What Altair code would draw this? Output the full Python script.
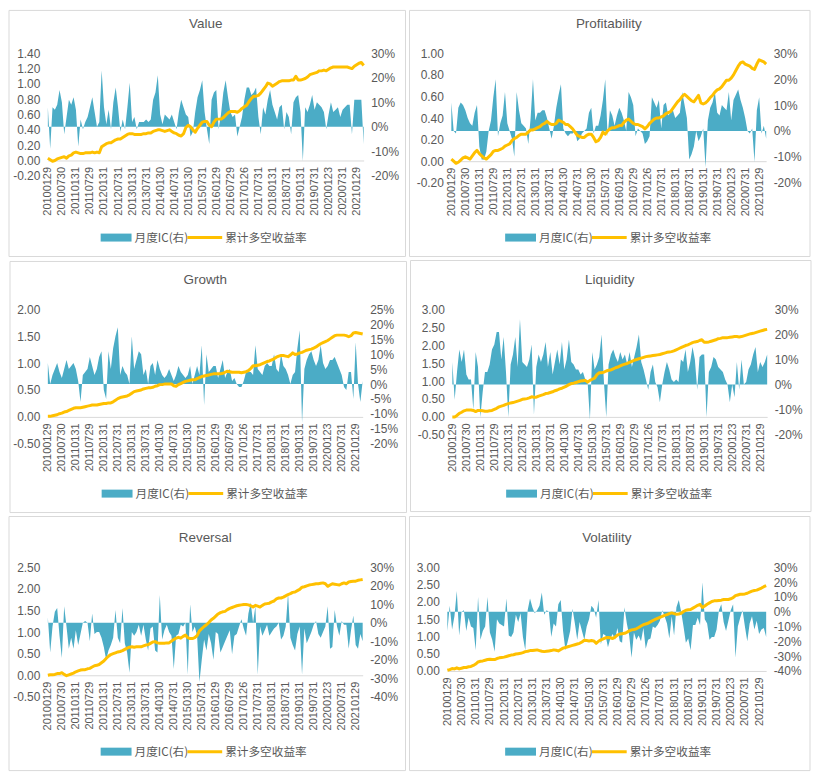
import altair as alt
import pandas as pd

# ---------------- data ----------------
tick_labels = ["20100129", "20100730", "20110131", "20110729", "20120131", "20120731",
               "20130131", "20130731", "20140130", "20140731", "20150130", "20150731",
               "20160129", "20160729", "20170126", "20170731", "20180131", "20180731",
               "20190131", "20190731", "20200123", "20200731", "20210129"]
legend_labels = ["月度IC(右)", "累计多空收益率"]
titles = ["Value", "Profitability", "Growth", "Liquidity", "Reversal", "Volatility"]

# monthly IC in percent (right axis), cumulative long-short return (left axis)
value_ic = [8, -9, 8, 7, 9, 15, 10, -3, 4, 11,
            9, 12, 7, -8, 3, -1, 2, 4, 8, 12,
            6, 0, 2, 23, 8, 1, 7, -1, 10, 16,
            8, -2, 3, -1, 8, 18, 2, 4, -1, 2,
            2, 2, 3, 2, 3, 11, 14, 21, 5, 1,
            5, 4, 3, 5, 2, -1, 6, 11, 8, 5,
            4, -4, -2, 6, 12, 15, 19, 6, -1, -7,
            11, 14, 15, -1, 5, 14, 19, 12, 6, 4,
            5, -4, 0, 4, 11, 16, 16, 13, 14, 16,
            4, -3, 8, 5, 11, 15, 9, 6, 3, 8,
            9, -1, 6, 4, -3, 10, 12, 13, 6, -14,
            8, 6, 9, 13, 7, 10, 9, 8, 6, -1,
            5, 10, 6, 7, 8, 4, 7, 8, 9, 9,
            -3, 11, 11, 11, 11, -7]
value_cum = [0.03, 0.01, -0.01, 0.00, 0.02, 0.03, 0.04, 0.05, 0.03, 0.06,
             0.07, 0.10, 0.11, 0.10, 0.09, 0.09, 0.10, 0.10, 0.10, 0.11,
             0.10, 0.11, 0.10, 0.18, 0.20, 0.22, 0.23, 0.23, 0.25, 0.27,
             0.28, 0.28, 0.30, 0.32, 0.34, 0.35, 0.35, 0.34, 0.34, 0.34,
             0.34, 0.35, 0.35, 0.36, 0.36, 0.38, 0.39, 0.40, 0.40, 0.39,
             0.38, 0.39, 0.40, 0.38, 0.36, 0.35, 0.33, 0.32, 0.35, 0.43,
             0.46, 0.44, 0.40, 0.37, 0.42, 0.46, 0.50, 0.51, 0.51, 0.46,
             0.44, 0.50, 0.54, 0.54, 0.54, 0.56, 0.59, 0.62, 0.64, 0.64,
             0.64, 0.63, 0.65, 0.68, 0.70, 0.72, 0.77, 0.81, 0.84, 0.84,
             0.85, 0.88, 0.92, 0.96, 1.01, 1.00, 0.97, 0.99, 1.01, 1.03,
             1.04, 1.04, 1.04, 1.04, 1.05, 1.05, 1.10, 1.05, 1.05, 1.06,
             1.07, 1.09, 1.12, 1.13, 1.14, 1.15, 1.17, 1.17, 1.18, 1.17,
             1.19, 1.21, 1.22, 1.22, 1.22, 1.22, 1.22, 1.22, 1.22, 1.21,
             1.20, 1.23, 1.25, 1.27, 1.28, 1.24]

profit_ic = [11, 0, -1, 9, 11, 10, 8, 5, 3, 2,
             7, 10, -6, -11, -11, -8, 0, 4, 13, 20,
             -2, 3, 6, 15, 3, 0, -3, -10, 15, 8,
             3, 2, 1, -5, 5, 20, 4, 7, 7, 8,
             8, 5, 1, -3, 2, 9, 14, 18, 1, -1,
             -2, -1, -1, 0, -4, -3, -1, 0, 1, 7,
             9, -1, 2, 2, 6, 12, 20, -2, 8, 6,
             2, 6, 9, 7, 4, 0, 15, 13, 10, -2,
             1, 0, -1, -5, -4, -2, 13, 11, 9, 12,
             1, 10, 11, 6, 7, 8, 5, 6, 7, 15,
             10, 5, -11, -9, -6, 0, -4, -2, 1, -14,
             4, 9, 11, 15, 7, 6, 10, 9, 8, 15,
             4, 12, 14, 16, 12, 9, 5, 0, -1, 1,
             -12, 8, 13, -1, 2, -3]
profit_cum = [0.02, 0.00, -0.02, -0.01, 0.01, 0.03, 0.04, 0.03, 0.02, 0.05,
              0.08, 0.10, 0.07, 0.05, 0.03, 0.02, 0.04, 0.06, 0.09, 0.10,
              0.10, 0.11, 0.12, 0.14, 0.15, 0.16, 0.19, 0.21, 0.22, 0.24,
              0.25, 0.25, 0.25, 0.27, 0.29, 0.29, 0.30, 0.31, 0.32, 0.34,
              0.35, 0.37, 0.35, 0.34, 0.34, 0.35, 0.38, 0.37, 0.36, 0.34,
              0.34, 0.32, 0.30, 0.27, 0.24, 0.23, 0.22, 0.22, 0.24, 0.25,
              0.25, 0.22, 0.18, 0.19, 0.22, 0.27, 0.25, 0.28, 0.30, 0.31,
              0.31, 0.32, 0.33, 0.33, 0.36, 0.38, 0.39, 0.37, 0.35, 0.34,
              0.34, 0.33, 0.32, 0.30, 0.32, 0.35, 0.37, 0.39, 0.40, 0.40,
              0.41, 0.42, 0.44, 0.45, 0.46, 0.49, 0.52, 0.55, 0.57, 0.60,
              0.62, 0.60, 0.58, 0.56, 0.55, 0.58, 0.61, 0.54, 0.53, 0.54,
              0.56, 0.59, 0.61, 0.64, 0.66, 0.67, 0.69, 0.72, 0.75, 0.75,
              0.77, 0.80, 0.84, 0.88, 0.91, 0.92, 0.90, 0.89, 0.88, 0.86,
              0.85, 0.90, 0.94, 0.93, 0.92, 0.90]

growth_ic = [7, 0, 3, 5, 7, 4, 2, 5, 8, 5,
             6, 7, 5, 1, -6, 3, 4, 5, 9, 6,
             3, 5, 9, 11, -2, -5, 11, 5, 12, 16,
             19, 3, 6, 4, 3, 0, 16, 5, 8, 11,
             10, 3, 5, 0, 6, 7, 3, 8, 5, 3,
             2, 3, 5, 3, 1, 3, 6, 4, 3, 2,
             3, 6, 0, 3, 6, 3, 13, -7, 10, 4,
             5, 6, 6, 2, 5, 8, 2, 4, 5, 1,
             2, 0, -1, -1, 1, 4, 4, 4, 3, 13,
             5, 4, 3, 6, 7, 6, 6, 10, 5, 4,
             10, 6, 5, 3, 0, 3, 4, 12, 18, -13,
             5, 8, 10, 11, 8, 6, 8, 13, 7, 5,
             6, 8, 8, 9, 7, 5, 3, -1, -2, 4,
             4, -5, 14, 0, -6, 1]
growth_cum = [0.01, 0.01, 0.02, 0.03, 0.04, 0.06, 0.07, 0.09, 0.10, 0.12,
              0.14, 0.16, 0.17, 0.17, 0.17, 0.18, 0.19, 0.20, 0.21, 0.22,
              0.22, 0.22, 0.23, 0.24, 0.25, 0.25, 0.26, 0.26, 0.28, 0.31,
              0.34, 0.36, 0.37, 0.38, 0.39, 0.41, 0.44, 0.47, 0.48, 0.49,
              0.50, 0.52, 0.53, 0.54, 0.54, 0.55, 0.57, 0.58, 0.60, 0.60,
              0.61, 0.61, 0.61, 0.61, 0.58, 0.57, 0.60, 0.62, 0.64, 0.66,
              0.67, 0.68, 0.69, 0.69, 0.71, 0.73, 0.75, 0.76, 0.77, 0.78,
              0.79, 0.80, 0.80, 0.80, 0.80, 0.81, 0.83, 0.85, 0.84, 0.83,
              0.83, 0.83, 0.83, 0.82, 0.83, 0.84, 0.86, 0.90, 0.95, 0.95,
              0.96, 0.97, 0.99, 1.01, 1.03, 1.04, 1.06, 1.08, 1.11, 1.13,
              1.14, 1.14, 1.13, 1.12, 1.15, 1.19, 1.16, 1.17, 1.19, 1.20,
              1.22, 1.24, 1.25, 1.26, 1.28, 1.30, 1.33, 1.36, 1.38, 1.40,
              1.42, 1.45, 1.48, 1.51, 1.52, 1.52, 1.52, 1.52, 1.51, 1.49,
              1.51, 1.56, 1.57, 1.56, 1.55, 1.54]

liquid_ic = [9, -6, 5, 14, 9, 14, 4, 2, 2, -10,
             13, 7, -13, -3, 5, 5, 8, 14, 16, 21,
             21, 10, 19, 5, -13, 8, 12, 19, 7, 26,
             9, 8, 7, 10, 16, -12, 7, 12, 9, 12,
             17, 7, 13, 4, 9, 14, 8, 17, 6, 10,
             18, 9, 8, 6, 6, 4, 5, 2, 1, -14,
             13, 6, 8, 11, 20, 1, -13, 8, 12, 14,
             11, 9, 13, 10, 12, 8, 13, 7, 11, 15,
             20, 9, 6, 2, -2, 5, 8, 1, -1, -7,
             0, 5, 9, 6, 2, 1, 2, 1, 10, 9,
             14, 5, 9, 15, 10, -2, 11, 12, 12, -13,
             5, 7, 11, 10, 7, 6, 5, 2, 0, -7,
             0, -5, 9, -2, 10, 0, 1, 6, 8, 12,
             15, 5, 9, 7, 9, 12]
liquid_cum = [0.00, 0.00, 0.04, 0.10, 0.13, 0.17, 0.19, 0.19, 0.19, 0.18,
              0.15, 0.18, 0.18, 0.17, 0.16, 0.16, 0.17, 0.18, 0.21, 0.24,
              0.28, 0.30, 0.32, 0.35, 0.37, 0.39, 0.40, 0.42, 0.44, 0.46,
              0.49, 0.50, 0.51, 0.53, 0.56, 0.55, 0.55, 0.58, 0.60, 0.62,
              0.65, 0.66, 0.68, 0.70, 0.73, 0.75, 0.78, 0.80, 0.83, 0.86,
              0.90, 0.93, 0.94, 0.96, 0.98, 1.00, 1.01, 1.02, 0.97, 1.02,
              1.05, 1.08, 1.18, 1.23, 1.23, 1.25, 1.28, 1.30, 1.31, 1.34,
              1.37, 1.39, 1.42, 1.45, 1.47, 1.49, 1.52, 1.55, 1.58, 1.60,
              1.62, 1.64, 1.66, 1.68, 1.69, 1.70, 1.71, 1.72, 1.73, 1.74,
              1.76, 1.78, 1.80, 1.81, 1.82, 1.84, 1.87, 1.90, 1.93, 1.96,
              1.99, 2.01, 2.04, 2.07, 2.09, 2.10, 2.13, 2.15, 2.08, 2.08,
              2.09, 2.11, 2.13, 2.15, 2.18, 2.19, 2.21, 2.21, 2.21, 2.22,
              2.23, 2.24, 2.24, 2.23, 2.24, 2.26, 2.28, 2.30, 2.32, 2.33,
              2.35, 2.37, 2.39, 2.41, 2.43, 2.44]

reversal_ic = [3, -16, -2, 6, 8, -7, -19, 9, -2, -14,
               -8, -14, -4, -12, -6, 0, 1, 0, -10, 5,
               -6, -5, -5, -8, -13, -20, -15, -12, -8, 7,
               -8, -11, 8, -11, -16, -27, -5, -7, -5, -1,
               -7, -1, -9, -15, -3, -2, -15, -16, 15, -9,
               -4, -1, -5, -7, -25, -7, -6, -1, -2, 0,
               -28, 10, -5, -2, -7, -32, -20, -9, -15, -6,
               -11, -20, -5, -6, -16, -13, -10, -7, -4, -17,
               -7, -6, -2, 2, -3, -7, 5, 11, 0, 9,
               -28, -2, -7, -4, -1, -7, -5, -3, -2, 0,
               -9, -7, -2, 16, -8, -12, -15, -6, -2, -28,
               -3, -11, -8, -5, -1, 1, -6, -8, -5, -2,
               9, -14, -13, 7, -2, -7, 1, -1, -1, -14,
               -4, 4, -12, -14, -6, -10]
reversal_cum = [0.00, 0.01, 0.01, 0.02, 0.04, 0.04, 0.06, 0.02, -0.01, 0.01,
                0.03, 0.05, 0.08, 0.10, 0.12, 0.13, 0.13, 0.15, 0.16, 0.19,
                0.22, 0.23, 0.25, 0.29, 0.33, 0.39, 0.44, 0.48, 0.50, 0.52,
                0.54, 0.55, 0.57, 0.60, 0.63, 0.65, 0.66, 0.65, 0.66, 0.66,
                0.66, 0.68, 0.70, 0.71, 0.74, 0.77, 0.78, 0.75, 0.74, 0.74,
                0.74, 0.75, 0.75, 0.79, 0.83, 0.86, 0.88, 0.86, 0.90, 0.93,
                0.87, 0.85, 0.85, 0.87, 0.92, 1.03, 1.08, 1.13, 1.17, 1.22,
                1.28, 1.32, 1.37, 1.42, 1.45, 1.47, 1.48, 1.52, 1.55, 1.57,
                1.59, 1.61, 1.62, 1.63, 1.64, 1.64, 1.63, 1.61, 1.58, 1.62,
                1.60, 1.58, 1.62, 1.65, 1.66, 1.67, 1.70, 1.72, 1.77, 1.79,
                1.79, 1.81, 1.84, 1.87, 1.89, 1.92, 1.93, 1.96, 1.99, 2.04,
                2.05, 2.07, 2.09, 2.10, 2.11, 2.12, 2.12, 2.13, 2.14, 2.12,
                2.06, 2.09, 2.12, 2.11, 2.10, 2.09, 2.12, 2.14, 2.12, 2.16,
                2.17, 2.18, 2.18, 2.20, 2.21, 2.22]

vol_ic = [-13, 4, -12, -3, 14, -16, 0, 1, -13, -4,
          -10, -11, -26, 10, -19, -13, -10, 10, -14, -19,
          -27, -5, -8, -9, -10, 9, -16, -17, -14, -2,
          -7, -1, -17, -26, 1, 9, 3, -1, 1, 4,
          13, -2, 1, 0, -17, -8, -10, 5, 8, -13,
          -26, -20, -13, 2, -8, -19, -7, -13, -19, -10,
          -5, 4, 2, -4, 8, -22, -15, -16, -24, -18,
          -15, -19, -11, -20, -21, 3, -8, -16, -31, -14,
          -19, -16, -20, -11, -25, -19, -18, -10, -11, -9,
          -6, 1, -3, -8, -18, -3, -16, 3, 8, 0,
          -10, -21, -18, -26, -9, -9, -4, -9, 20, -5,
          -8, -19, -17, -17, -12, 1, 5, -7, -13, -6,
          1, 5, -31, -10, -4, 1, -10, -20, -8, -3,
          -12, -6, -15, -12, -11, -17]
vol_cum = [0.02, 0.04, 0.07, 0.06, 0.09, 0.06, 0.08, 0.10, 0.10, 0.12,
           0.13, 0.16, 0.20, 0.26, 0.28, 0.29, 0.31, 0.33, 0.34, 0.33,
           0.33, 0.36, 0.38, 0.39, 0.40, 0.42, 0.44, 0.46, 0.47, 0.49,
           0.50, 0.51, 0.53, 0.56, 0.57, 0.59, 0.59, 0.60, 0.61, 0.59,
           0.57, 0.56, 0.57, 0.58, 0.59, 0.61, 0.60, 0.58, 0.62, 0.66,
           0.68, 0.70, 0.72, 0.74, 0.76, 0.78, 0.80, 0.84, 0.89, 0.88,
           0.87, 0.88, 0.87, 0.80, 0.86, 0.90, 0.93, 0.96, 0.97, 0.96,
           0.94, 0.98, 1.04, 1.07, 1.08, 1.09, 1.12, 1.16, 1.19, 1.20,
           1.22, 1.26, 1.30, 1.34, 1.36, 1.38, 1.42, 1.46, 1.49, 1.52,
           1.55, 1.58, 1.61, 1.63, 1.66, 1.68, 1.66, 1.64, 1.65, 1.67,
           1.72, 1.76, 1.77, 1.78, 1.82, 1.86, 1.90, 1.93, 1.84, 1.88,
           1.93, 1.97, 2.01, 2.03, 2.03, 2.04, 2.05, 2.07, 2.07, 2.07,
           2.09, 2.12, 2.18, 2.20, 2.22, 2.22, 2.23, 2.25, 2.28, 2.31,
           2.33, 2.34, 2.37, 2.40, 2.44, 2.47]

series = [(value_ic, value_cum), (profit_ic, profit_cum), (growth_ic, growth_cum),
          (liquid_ic, liquid_cum), (reversal_ic, reversal_cum), (vol_ic, vol_cum)]
for ic, cum in series:
    assert len(ic) == 136 and len(cum) == 136, (len(ic), len(cum))

# ---------------- style / layout ----------------
TEAL = "#4BACC6"
GOLD = "#FFC000"
LINEC = "#D9D9D9"
TXT = "#595959"
FONT = "Liberation Sans"
CJK = "Noto Sans CJK SC"

# per panel: plot w, h, left domain/step, right domain/step, border box (rel. to plot), legend x (rel.)
layout = [
    dict(w=317, h=123, ldom=(-0.2, 1.4), lstep=0.2, rdom=(-0.2, 0.3), rstep=0.1, box=(-39, 359, -43, 204), lx=53),
    dict(w=316, h=130, ldom=(-0.2, 1.0), lstep=0.2, rdom=(-0.2, 0.3), rstep=0.1, box=(-42, 360, -43, 204), lx=54),
    dict(w=316, h=135, ldom=(-0.5, 2.0), lstep=0.5, rdom=(-0.2, 0.25), rstep=0.05, box=(-38, 360, -48, 204), lx=54),
    dict(w=316, h=126, ldom=(-0.5, 3.0), lstep=0.5, rdom=(-0.2, 0.3), rstep=0.1, box=(-42, 360, -49, 203), lx=54),
    dict(w=316, h=130, ldom=(-0.5, 2.5), lstep=0.5, rdom=(-0.4, 0.3), rstep=0.1, box=(-39, 359, -51, 204), lx=53),
    dict(w=320, h=104, ldom=(0.0, 3.0), lstep=0.5, rdom=(-0.4, 0.3), rstep=0.1, box=(-38, 364, -51, 204), lx=58),
]

tick_js = "[" + ",".join("'%s'" % t for t in tick_labels) + "]"


def ticks(dom, step):
    n = round((dom[1] - dom[0]) / step)
    return [round(dom[0] + k * step, 4) for k in range(n + 1)]


def panel(title, ic, cum, cfg):
    w, h = cfg["w"], cfg["h"]
    ldom, rdom = list(cfg["ldom"]), list(cfg["rdom"])
    df = pd.DataFrame({"m": list(range(len(ic))), "ic": [v / 100 for v in ic], "cum": cum})
    one = pd.DataFrame({"k": [0]})
    zero_px = h * ldom[1] / (ldom[1] - ldom[0])
    x = alt.X("m:Q",
              scale=alt.Scale(domain=[0, len(ic) - 1], nice=False, zero=False),
              axis=alt.Axis(values=list(range(0, 6 * len(tick_labels), 6)),
                            labelExpr=tick_js + "[round(datum.value/6)]",
                            labelAngle=-90, labelFlush=False, labelOverlap=False,
                            offset=-(h - zero_px), domainColor=LINEC, domainWidth=1,
                            ticks=False, grid=False, title=None, labelPadding=6,
                            labelFontSize=11, labelColor=TXT, labelFont=FONT))
    area = alt.Chart(df).mark_area(color=TEAL, opacity=1, interpolate="linear").encode(
        x=x,
        y=alt.Y("ic:Q", scale=alt.Scale(domain=rdom, nice=False),
                axis=alt.Axis(orient="right", values=ticks(rdom, cfg["rstep"]),
                              labelExpr="(datum.value < -1e-9 ? '-' : '') + format(abs(datum.value), '.0%')",
                              domain=False, ticks=False, grid=False, title=None,
                              labelPadding=7, labelFontSize=12, labelColor=TXT,
                              labelFont=FONT, labelOverlap=False)))
    line = alt.Chart(df).mark_line(color=GOLD, strokeWidth=3, strokeJoin="round").encode(
        x=x,
        y=alt.Y("cum:Q", scale=alt.Scale(domain=ldom, nice=False),
                axis=alt.Axis(orient="left", values=ticks(ldom, cfg["lstep"]),
                              labelExpr="(datum.value < -1e-9 ? '-' : '') + format(abs(datum.value), '.2f')",
                              domain=False, ticks=False, grid=False, title=None,
                              labelPadding=8, labelFontSize=12, labelColor=TXT,
                              labelFont=FONT, labelOverlap=False)))
    bx0, bx1, by0, by1 = cfg["box"]
    border = alt.Chart(one).mark_rect(fillOpacity=0, stroke=LINEC, strokeWidth=1).encode(
        x=alt.value(bx0), x2=alt.value(bx1), y=alt.value(by0), y2=alt.value(by1))
    head = alt.Chart(one).mark_text(align="center", baseline="middle", fontSize=13.5,
                                    color=TXT, font=FONT).encode(
        x=alt.value(w / 2), y=alt.value(-29), text=alt.value(title))
    lx, ly = cfg["lx"], 185
    leg_rect = alt.Chart(one).mark_rect(color=TEAL).encode(
        x=alt.value(lx), x2=alt.value(lx + 31), y=alt.value(ly - 4), y2=alt.value(ly + 4))
    leg_t1 = alt.Chart(one).mark_text(align="left", baseline="middle", fontSize=11.7,
                                      color=TXT, font=CJK).encode(
        x=alt.value(lx + 34), y=alt.value(ly), text=alt.value(legend_labels[0]))
    leg_line = alt.Chart(one).mark_rule(color=GOLD, strokeWidth=3).encode(
        x=alt.value(lx + 87), x2=alt.value(lx + 122), y=alt.value(ly))
    leg_t2 = alt.Chart(one).mark_text(align="left", baseline="middle", fontSize=11.7,
                                      color=TXT, font=CJK).encode(
        x=alt.value(lx + 125), y=alt.value(ly), text=alt.value(legend_labels[1]))
    return alt.layer(border, area, line, head, leg_rect, leg_t1, leg_line, leg_t2).resolve_scale(
        y="independent").properties(width=w, height=h)


charts = [panel(titles[k], series[k][0], series[k][1], layout[k]) for k in range(6)]

chart = alt.vconcat(
    alt.hconcat(charts[0], charts[1], spacing=2),
    alt.hconcat(charts[2], charts[3], spacing=2),
    alt.hconcat(charts[4], charts[5], spacing=2),
    spacing=2,
).properties(padding=0, background="white").configure_view(stroke=None)

chart.save("out.html", embed_options={"renderer": "svg", "actions": False})
